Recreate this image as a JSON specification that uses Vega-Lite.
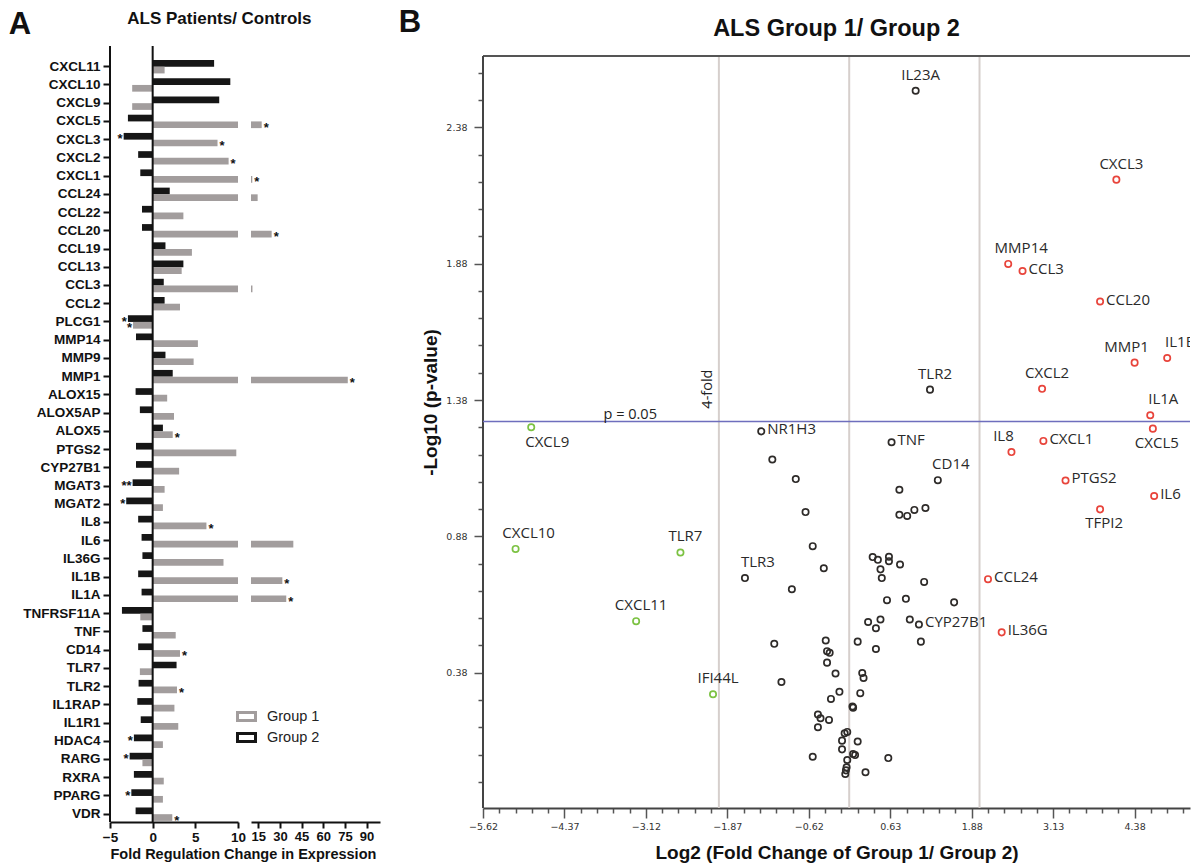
{
  "$schema": "https://vega.github.io/schema/vega-lite/v6.json",
  "background": "white",
  "padding": {"left": 8, "top": 6, "right": 0, "bottom": 0},
  "config": {
    "view": {"stroke": null},
    "font": "Liberation Sans",
    "title": {"color": "#111"},
    "axis": {"grid": false, "domainColor": "#111", "tickColor": "#111", "labelColor": "#111", "titleColor": "#111"}
  },
  "datasets": {
    "genes": [
      {"gene": "CXCL11", "group": "Group 2", "value": 7.2, "star": ""},
      {"gene": "CXCL11", "group": "Group 1", "value": 1.4, "star": ""},
      {"gene": "CXCL10", "group": "Group 2", "value": 9.1, "star": ""},
      {"gene": "CXCL10", "group": "Group 1", "value": -2.4, "star": ""},
      {"gene": "CXCL9", "group": "Group 2", "value": 7.8, "star": ""},
      {"gene": "CXCL9", "group": "Group 1", "value": -2.4, "star": ""},
      {"gene": "CXCL5", "group": "Group 2", "value": -2.9, "star": ""},
      {"gene": "CXCL5", "group": "Group 1", "value": 17.4, "star": "*"},
      {"gene": "CXCL3", "group": "Group 2", "value": -3.4, "star": "*"},
      {"gene": "CXCL3", "group": "Group 1", "value": 7.6, "star": "*"},
      {"gene": "CXCL2", "group": "Group 2", "value": -1.7, "star": ""},
      {"gene": "CXCL2", "group": "Group 1", "value": 8.9, "star": "*"},
      {"gene": "CXCL1", "group": "Group 2", "value": -1.45, "star": ""},
      {"gene": "CXCL1", "group": "Group 1", "value": 10.9, "star": "*"},
      {"gene": "CCL24", "group": "Group 2", "value": 2.0, "star": ""},
      {"gene": "CCL24", "group": "Group 1", "value": 14.6, "star": ""},
      {"gene": "CCL22", "group": "Group 2", "value": -1.25, "star": ""},
      {"gene": "CCL22", "group": "Group 1", "value": 3.6, "star": ""},
      {"gene": "CCL20", "group": "Group 2", "value": -1.25, "star": ""},
      {"gene": "CCL20", "group": "Group 1", "value": 24.3, "star": "*"},
      {"gene": "CCL19", "group": "Group 2", "value": 1.5, "star": ""},
      {"gene": "CCL19", "group": "Group 1", "value": 4.6, "star": ""},
      {"gene": "CCL13", "group": "Group 2", "value": 3.6, "star": ""},
      {"gene": "CCL13", "group": "Group 1", "value": 3.4, "star": ""},
      {"gene": "CCL3", "group": "Group 2", "value": 1.3, "star": ""},
      {"gene": "CCL3", "group": "Group 1", "value": 11.0, "star": ""},
      {"gene": "CCL2", "group": "Group 2", "value": 1.4, "star": ""},
      {"gene": "CCL2", "group": "Group 1", "value": 3.2, "star": ""},
      {"gene": "PLCG1", "group": "Group 2", "value": -2.9, "star": "*"},
      {"gene": "PLCG1", "group": "Group 1", "value": -2.3, "star": "*"},
      {"gene": "MMP14", "group": "Group 2", "value": -1.95, "star": ""},
      {"gene": "MMP14", "group": "Group 1", "value": 5.3, "star": ""},
      {"gene": "MMP9", "group": "Group 2", "value": 1.5, "star": ""},
      {"gene": "MMP9", "group": "Group 1", "value": 4.8, "star": ""},
      {"gene": "MMP1", "group": "Group 2", "value": 2.35, "star": ""},
      {"gene": "MMP1", "group": "Group 1", "value": 77.0, "star": "*"},
      {"gene": "ALOX15", "group": "Group 2", "value": -2.0, "star": ""},
      {"gene": "ALOX15", "group": "Group 1", "value": 1.7, "star": ""},
      {"gene": "ALOX5AP", "group": "Group 2", "value": -1.5, "star": ""},
      {"gene": "ALOX5AP", "group": "Group 1", "value": 2.5, "star": ""},
      {"gene": "ALOX5", "group": "Group 2", "value": 1.2, "star": ""},
      {"gene": "ALOX5", "group": "Group 1", "value": 2.35, "star": "*"},
      {"gene": "PTGS2", "group": "Group 2", "value": -1.95, "star": ""},
      {"gene": "PTGS2", "group": "Group 1", "value": 9.8, "star": ""},
      {"gene": "CYP27B1", "group": "Group 2", "value": -1.95, "star": ""},
      {"gene": "CYP27B1", "group": "Group 1", "value": 3.1, "star": ""},
      {"gene": "MGAT3", "group": "Group 2", "value": -2.35, "star": "**"},
      {"gene": "MGAT3", "group": "Group 1", "value": 1.4, "star": ""},
      {"gene": "MGAT2", "group": "Group 2", "value": -3.1, "star": "*"},
      {"gene": "MGAT2", "group": "Group 1", "value": 1.2, "star": ""},
      {"gene": "IL8", "group": "Group 2", "value": -1.7, "star": ""},
      {"gene": "IL8", "group": "Group 1", "value": 6.3, "star": "*"},
      {"gene": "IL6", "group": "Group 2", "value": -1.3, "star": ""},
      {"gene": "IL6", "group": "Group 1", "value": 39.3, "star": ""},
      {"gene": "IL36G", "group": "Group 2", "value": -1.2, "star": ""},
      {"gene": "IL36G", "group": "Group 1", "value": 8.3, "star": ""},
      {"gene": "IL1B", "group": "Group 2", "value": -1.7, "star": ""},
      {"gene": "IL1B", "group": "Group 1", "value": 31.7, "star": "*"},
      {"gene": "IL1A", "group": "Group 2", "value": -1.3, "star": ""},
      {"gene": "IL1A", "group": "Group 1", "value": 34.4, "star": "*"},
      {"gene": "TNFRSF11A", "group": "Group 2", "value": -3.6, "star": ""},
      {"gene": "TNFRSF11A", "group": "Group 1", "value": -1.45, "star": ""},
      {"gene": "TNF", "group": "Group 2", "value": -1.2, "star": ""},
      {"gene": "TNF", "group": "Group 1", "value": 2.7, "star": ""},
      {"gene": "CD14", "group": "Group 2", "value": -1.7, "star": ""},
      {"gene": "CD14", "group": "Group 1", "value": 3.2, "star": "*"},
      {"gene": "TLR7", "group": "Group 2", "value": 2.8, "star": ""},
      {"gene": "TLR7", "group": "Group 1", "value": -1.5, "star": ""},
      {"gene": "TLR2", "group": "Group 2", "value": -1.65, "star": ""},
      {"gene": "TLR2", "group": "Group 1", "value": 2.85, "star": "*"},
      {"gene": "IL1RAP", "group": "Group 2", "value": -1.8, "star": ""},
      {"gene": "IL1RAP", "group": "Group 1", "value": 2.55, "star": ""},
      {"gene": "IL1R1", "group": "Group 2", "value": -1.4, "star": ""},
      {"gene": "IL1R1", "group": "Group 1", "value": 3.0, "star": ""},
      {"gene": "HDAC4", "group": "Group 2", "value": -2.2, "star": "*"},
      {"gene": "HDAC4", "group": "Group 1", "value": 1.2, "star": ""},
      {"gene": "RARG", "group": "Group 2", "value": -2.7, "star": "*"},
      {"gene": "RARG", "group": "Group 1", "value": -1.2, "star": ""},
      {"gene": "RXRA", "group": "Group 2", "value": -2.2, "star": ""},
      {"gene": "RXRA", "group": "Group 1", "value": 1.3, "star": ""},
      {"gene": "PPARG", "group": "Group 2", "value": -2.5, "star": "*"},
      {"gene": "PPARG", "group": "Group 1", "value": 1.2, "star": ""},
      {"gene": "VDR", "group": "Group 2", "value": -2.0, "star": ""},
      {"gene": "VDR", "group": "Group 1", "value": 2.3, "star": "*"}
    ],
    "volcano": [
      {"gene": "CXCL9", "lfc": -4.88, "nlp": 1.28, "cls": "down", "side": "below-r"},
      {"gene": "CXCL10", "lfc": -5.12, "nlp": 0.834, "cls": "down", "side": "above-r"},
      {"gene": "TLR7", "lfc": -2.59, "nlp": 0.821, "cls": "down", "side": "above"},
      {"gene": "CXCL11", "lfc": -3.27, "nlp": 0.569, "cls": "down", "side": "above"},
      {"gene": "IFI44L", "lfc": -2.09, "nlp": 0.301, "cls": "down", "side": "above"},
      {"gene": "CXCL3", "lfc": 4.1, "nlp": 2.188, "cls": "up", "side": "above"},
      {"gene": "MMP14", "lfc": 2.44, "nlp": 1.879, "cls": "up", "side": "above-r"},
      {"gene": "CCL3", "lfc": 2.66, "nlp": 1.853, "cls": "up", "side": "right"},
      {"gene": "CCL20", "lfc": 3.85, "nlp": 1.741, "cls": "up", "side": "right"},
      {"gene": "MMP1", "lfc": 4.38, "nlp": 1.517, "cls": "up", "side": "above-l"},
      {"gene": "IL1B", "lfc": 4.88, "nlp": 1.534, "cls": "up", "side": "above-r"},
      {"gene": "CXCL2", "lfc": 2.96, "nlp": 1.421, "cls": "up", "side": "above"},
      {"gene": "IL1A", "lfc": 4.62, "nlp": 1.324, "cls": "up", "side": "above-r"},
      {"gene": "CXCL5", "lfc": 4.66, "nlp": 1.275, "cls": "up", "side": "below"},
      {"gene": "IL8", "lfc": 2.49, "nlp": 1.189, "cls": "up", "side": "above-l"},
      {"gene": "CXCL1", "lfc": 2.98, "nlp": 1.23, "cls": "up", "side": "right"},
      {"gene": "PTGS2", "lfc": 3.32, "nlp": 1.085, "cls": "up", "side": "right"},
      {"gene": "IL6", "lfc": 4.68, "nlp": 1.028, "cls": "up", "side": "right"},
      {"gene": "TFPI2", "lfc": 3.85, "nlp": 0.979, "cls": "up", "side": "below"},
      {"gene": "CCL24", "lfc": 2.13, "nlp": 0.723, "cls": "up", "side": "right"},
      {"gene": "IL36G", "lfc": 2.34, "nlp": 0.528, "cls": "up", "side": "right"},
      {"gene": "IL23A", "lfc": 1.02, "nlp": 2.514, "cls": "ns", "side": "above"},
      {"gene": "TLR2", "lfc": 1.24, "nlp": 1.418, "cls": "ns", "side": "above"},
      {"gene": "NR1H3", "lfc": -1.35, "nlp": 1.265, "cls": "ns", "side": "right"},
      {"gene": "TNF", "lfc": 0.65, "nlp": 1.225, "cls": "ns", "side": "right"},
      {"gene": "CD14", "lfc": 1.36, "nlp": 1.086, "cls": "ns", "side": "above-r"},
      {"gene": "TLR3", "lfc": -1.6, "nlp": 0.727, "cls": "ns", "side": "above-r"},
      {"gene": "CYP27B1", "lfc": 1.07, "nlp": 0.557, "cls": "ns", "side": "right"},
      {"gene": "", "lfc": -1.18, "nlp": 1.162, "cls": "ns", "side": "none"},
      {"gene": "", "lfc": -0.82, "nlp": 1.09, "cls": "ns", "side": "none"},
      {"gene": "", "lfc": -0.67, "nlp": 0.969, "cls": "ns", "side": "none"},
      {"gene": "", "lfc": -0.56, "nlp": 0.844, "cls": "ns", "side": "none"},
      {"gene": "", "lfc": 0.77, "nlp": 1.051, "cls": "ns", "side": "none"},
      {"gene": "", "lfc": 0.77, "nlp": 0.959, "cls": "ns", "side": "none"},
      {"gene": "", "lfc": 0.89, "nlp": 0.955, "cls": "ns", "side": "none"},
      {"gene": "", "lfc": 1.0, "nlp": 0.977, "cls": "ns", "side": "none"},
      {"gene": "", "lfc": 1.17, "nlp": 0.984, "cls": "ns", "side": "none"},
      {"gene": "", "lfc": -0.39, "nlp": 0.763, "cls": "ns", "side": "none"},
      {"gene": "", "lfc": -0.88, "nlp": 0.686, "cls": "ns", "side": "none"},
      {"gene": "", "lfc": 0.36, "nlp": 0.804, "cls": "ns", "side": "none"},
      {"gene": "", "lfc": 0.44, "nlp": 0.794, "cls": "ns", "side": "none"},
      {"gene": "", "lfc": 0.61, "nlp": 0.805, "cls": "ns", "side": "none"},
      {"gene": "", "lfc": 0.61, "nlp": 0.789, "cls": "ns", "side": "none"},
      {"gene": "", "lfc": 0.78, "nlp": 0.777, "cls": "ns", "side": "none"},
      {"gene": "", "lfc": 0.48, "nlp": 0.759, "cls": "ns", "side": "none"},
      {"gene": "", "lfc": 0.5, "nlp": 0.727, "cls": "ns", "side": "none"},
      {"gene": "", "lfc": 1.15, "nlp": 0.713, "cls": "ns", "side": "none"},
      {"gene": "", "lfc": 0.58, "nlp": 0.646, "cls": "ns", "side": "none"},
      {"gene": "", "lfc": 0.87, "nlp": 0.651, "cls": "ns", "side": "none"},
      {"gene": "", "lfc": 1.61, "nlp": 0.638, "cls": "ns", "side": "none"},
      {"gene": "", "lfc": 0.29, "nlp": 0.566, "cls": "ns", "side": "none"},
      {"gene": "", "lfc": 0.48, "nlp": 0.575, "cls": "ns", "side": "none"},
      {"gene": "", "lfc": 0.41, "nlp": 0.543, "cls": "ns", "side": "none"},
      {"gene": "", "lfc": 0.93, "nlp": 0.575, "cls": "ns", "side": "none"},
      {"gene": "", "lfc": 1.1, "nlp": 0.494, "cls": "ns", "side": "none"},
      {"gene": "", "lfc": -1.15, "nlp": 0.486, "cls": "ns", "side": "none"},
      {"gene": "", "lfc": -0.36, "nlp": 0.498, "cls": "ns", "side": "none"},
      {"gene": "", "lfc": -0.34, "nlp": 0.459, "cls": "ns", "side": "none"},
      {"gene": "", "lfc": -0.3, "nlp": 0.453, "cls": "ns", "side": "none"},
      {"gene": "", "lfc": -0.34, "nlp": 0.417, "cls": "ns", "side": "none"},
      {"gene": "", "lfc": 0.13, "nlp": 0.494, "cls": "ns", "side": "none"},
      {"gene": "", "lfc": 0.41, "nlp": 0.467, "cls": "ns", "side": "none"},
      {"gene": "", "lfc": -1.04, "nlp": 0.346, "cls": "ns", "side": "none"},
      {"gene": "", "lfc": -0.21, "nlp": 0.377, "cls": "ns", "side": "none"},
      {"gene": "", "lfc": 0.2, "nlp": 0.379, "cls": "ns", "side": "none"},
      {"gene": "", "lfc": 0.22, "nlp": 0.361, "cls": "ns", "side": "none"},
      {"gene": "", "lfc": -0.15, "nlp": 0.31, "cls": "ns", "side": "none"},
      {"gene": "", "lfc": -0.28, "nlp": 0.284, "cls": "ns", "side": "none"},
      {"gene": "", "lfc": 0.17, "nlp": 0.305, "cls": "ns", "side": "none"},
      {"gene": "", "lfc": 0.06, "nlp": 0.252, "cls": "ns", "side": "none"},
      {"gene": "", "lfc": 0.05, "nlp": 0.256, "cls": "ns", "side": "none"},
      {"gene": "", "lfc": -0.48, "nlp": 0.227, "cls": "ns", "side": "none"},
      {"gene": "", "lfc": -0.44, "nlp": 0.213, "cls": "ns", "side": "none"},
      {"gene": "", "lfc": -0.31, "nlp": 0.207, "cls": "ns", "side": "none"},
      {"gene": "", "lfc": -0.48, "nlp": 0.18, "cls": "ns", "side": "none"},
      {"gene": "", "lfc": -0.07, "nlp": 0.158, "cls": "ns", "side": "none"},
      {"gene": "", "lfc": -0.03, "nlp": 0.163, "cls": "ns", "side": "none"},
      {"gene": "", "lfc": -0.11, "nlp": 0.131, "cls": "ns", "side": "none"},
      {"gene": "", "lfc": 0.13, "nlp": 0.128, "cls": "ns", "side": "none"},
      {"gene": "", "lfc": -0.11, "nlp": 0.099, "cls": "ns", "side": "none"},
      {"gene": "", "lfc": -0.56, "nlp": 0.072, "cls": "ns", "side": "none"},
      {"gene": "", "lfc": 0.06, "nlp": 0.082, "cls": "ns", "side": "none"},
      {"gene": "", "lfc": 0.09, "nlp": 0.078, "cls": "ns", "side": "none"},
      {"gene": "", "lfc": -0.03, "nlp": 0.06, "cls": "ns", "side": "none"},
      {"gene": "", "lfc": 0.6, "nlp": 0.067, "cls": "ns", "side": "none"},
      {"gene": "", "lfc": -0.04, "nlp": 0.033, "cls": "ns", "side": "none"},
      {"gene": "", "lfc": -0.05, "nlp": 0.022, "cls": "ns", "side": "none"},
      {"gene": "", "lfc": -0.06, "nlp": 0.009, "cls": "ns", "side": "none"},
      {"gene": "", "lfc": 0.25, "nlp": 0.015, "cls": "ns", "side": "none"}
    ],
    "vlines": [{"lfc": -2}, {"lfc": 0}, {"lfc": 2}],
    "notes": [
      {"note": "p = 0.05", "lfc": -3.36, "nlp": 1.301, "kind": "flat"},
      {"note": "4-fold", "lfc": -2.17, "nlp": 1.42, "kind": "rot"}
    ]
  },
  "resolve": {"scale": {"x": "independent", "y": "independent", "color": "independent", "stroke": "independent"}},
  "spacing": 18,
  "hconcat": [
    {
      "title": {"text": "A", "orient": "top", "anchor": "start", "frame": "bounds", "fontSize": 31, "fontWeight": "bold", "offset": -31, "dx": -14},
      "hconcat": [
        {
          "title": {"text": "ALS Patients/ Controls", "fontSize": 17, "fontWeight": "bold", "anchor": "middle", "offset": 17, "dx": 18},
          "bounds": "flush",
          "spacing": 13,
          "resolve": {"scale": {"x": "independent"}, "legend": {"color": "independent"}},
          "hconcat": [
            {
              "width": 128,
              "height": 776,
              "resolve": {"legend": {"color": "independent"}},
              "layer": [
                {
                  "data": {"name": "genes"},
                  "mark": {"type": "bar", "clip": true},
                  "encoding": {
                    "y": {"field": "gene", "type": "nominal", "scale": {"domain": ["CXCL11","CXCL10","CXCL9","CXCL5","CXCL3","CXCL2","CXCL1","CCL24","CCL22","CCL20","CCL19","CCL13","CCL3","CCL2","PLCG1","MMP14","MMP9","MMP1","ALOX15","ALOX5AP","ALOX5","PTGS2","CYP27B1","MGAT3","MGAT2","IL8","IL6","IL36G","IL1B","IL1A","TNFRSF11A","TNF","CD14","TLR7","TLR2","IL1RAP","IL1R1","HDAC4","RARG","RXRA","PPARG","VDR"], "range": [11.6, 777.3], "paddingInner": 0, "paddingOuter": 0},
                      "axis": {"title": null, "domain": false, "labelFontSize": 13.5, "labelFontWeight": "bold", "tickSize": 7, "tickWidth": 2, "labelPadding": 3}},
                    "yOffset": {"field": "group", "type": "nominal", "scale": {"domain": ["Group 2", "Group 1"], "paddingInner": 0, "paddingOuter": 0.36}},
                    "x": {"field": "value", "type": "quantitative", "scale": {"domain": [-5, 10], "nice": false, "zero": false},
                      "axis": {"values": [-5, 0, 5, 10], "tickCount": 10, "labelFontSize": 13.5, "labelFontWeight": "bold", "tickSize": 6, "tickWidth": 2, "domainWidth": 2, "labelPadding": 2, "labelFlush": false, "labelOverlap": false, "title": "Fold Regulation Change in Expression", "titleFontSize": 14.5, "titleFontWeight": "bold", "titleAnchor": "start", "titlePadding": 4}},
                    "x2": {"datum": 0},
                    "color": {"field": "group", "type": "nominal", "scale": {"domain": ["Group 1", "Group 2"], "range": ["#a29d9d", "#161616"]}, "legend": null}
                  }
                },
                {
                  "data": {"name": "genes"},
                  "transform": [{"filter": "datum.value > 1000"}],
                  "mark": {"type": "point", "filled": false, "shape": "M-1,-0.45L1,-0.45L1,0.45L-1,0.45Z", "size": 324, "strokeWidth": 3, "opacity": 1},
                  "encoding": {
                    "color": {"field": "group", "type": "nominal", "scale": {"domain": ["Group 1", "Group 2"], "range": ["#a29d9d", "#161616"]},
                      "legend": {"title": null, "orient": "none", "legendX": 126, "legendY": 660, "labelFontSize": 14.5, "labelFont": "Liberation Sans", "labelColor": "#222", "labelOffset": 10, "rowPadding": 0, "symbolStrokeWidth": 3, "symbolType": "M-1,-0.45L1,-0.45L1,0.45L-1,0.45Z", "symbolSize": 324, "symbolFillColor": "white"}}
                  }
                },
                {
                  "data": {"values": [{}]},
                  "mark": {"type": "rule", "color": "#111", "strokeWidth": 2},
                  "encoding": {"x": {"datum": 0}}
                },
                {
                  "data": {"values": [{}]},
                  "mark": {"type": "rule", "color": "#111", "strokeWidth": 2},
                  "encoding": {"x": {"datum": -5}}
                },
                {
                  "data": {"name": "genes"},
                  "transform": [{"filter": "datum.star != '' && datum.value > 0 && datum.value <= 10"}],
                  "mark": {"type": "text", "align": "left", "baseline": "middle", "dx": 2, "dy": 3, "fontSize": 13, "fontWeight": "bold", "color": "#111"},
                  "encoding": {
                    "y": {"field": "gene", "type": "nominal"},
                    "yOffset": {"field": "group", "type": "nominal"},
                    "x": {"field": "value", "type": "quantitative"},
                    "text": {"field": "star"}
                  }
                },
                {
                  "data": {"name": "genes"},
                  "transform": [{"filter": "datum.star != '' && datum.value < 0"}],
                  "mark": {"type": "text", "align": "right", "baseline": "middle", "dx": -1, "dy": 3, "fontSize": 13, "fontWeight": "bold", "color": "#111"},
                  "encoding": {
                    "y": {"field": "gene", "type": "nominal"},
                    "yOffset": {"field": "group", "type": "nominal"},
                    "x": {"field": "value", "type": "quantitative"},
                    "text": {"field": "star"}
                  }
                }
              ]
            },
            {
              "width": 129,
              "height": 776,
              "data": {"name": "genes"},
              "layer": [
                {
                  "mark": {"type": "bar", "clip": true},
                  "encoding": {
                    "y": {"field": "gene", "type": "nominal", "scale": {"domain": ["CXCL11","CXCL10","CXCL9","CXCL5","CXCL3","CXCL2","CXCL1","CCL24","CCL22","CCL20","CCL19","CCL13","CCL3","CCL2","PLCG1","MMP14","MMP9","MMP1","ALOX15","ALOX5AP","ALOX5","PTGS2","CYP27B1","MGAT3","MGAT2","IL8","IL6","IL36G","IL1B","IL1A","TNFRSF11A","TNF","CD14","TLR7","TLR2","IL1RAP","IL1R1","HDAC4","RARG","RXRA","PPARG","VDR"], "range": [11.6, 777.3], "paddingInner": 0, "paddingOuter": 0}, "axis": null},
                    "yOffset": {"field": "group", "type": "nominal", "scale": {"domain": ["Group 2", "Group 1"], "paddingInner": 0, "paddingOuter": 0.36}},
                    "x": {"field": "value", "type": "quantitative", "scale": {"domain": [10, 99.3], "nice": false, "zero": false},
                      "axis": {"values": [15, 30, 45, 60, 75, 90], "tickCount": 20, "labelFontSize": 13, "labelFontWeight": "bold", "tickSize": 6, "tickWidth": 2, "domainWidth": 2, "labelPadding": 2, "labelFlush": false, "labelOverlap": false, "labelBound": false, "labelSeparation": 0, "title": null}},
                    "x2": {"datum": 0},
                    "color": {"field": "group", "type": "nominal", "scale": {"domain": ["Group 1", "Group 2"], "range": ["#a29d9d", "#161616"]}, "legend": null}
                  }
                },
                {
                  "transform": [{"filter": "datum.star != '' && datum.value > 10"}],
                  "mark": {"type": "text", "align": "left", "baseline": "middle", "dx": 2, "dy": 3, "fontSize": 13, "fontWeight": "bold", "color": "#111"},
                  "encoding": {
                    "y": {"field": "gene", "type": "nominal"},
                    "yOffset": {"field": "group", "type": "nominal"},
                    "x": {"field": "value", "type": "quantitative"},
                    "text": {"field": "star"}
                  }
                }
              ]
            }
          ]
        }
      ]
    },
    {
      "title": {"text": "B", "orient": "top", "anchor": "start", "frame": "bounds", "fontSize": 31, "fontWeight": "bold", "offset": -22, "dx": -23},
      "hconcat": [
        {
          "width": 707,
          "height": 762,
          "title": {"text": "ALS Group 1/ Group 2", "fontSize": 23.5, "fontWeight": "bold", "anchor": "middle", "frame": "group", "offset": 6},
          "resolve": {"axis": {"x": "independent"}},
          "layer": [
            {
              "data": {"name": "vlines"},
              "mark": {"type": "rule", "color": "#d6cfcc", "strokeWidth": 2},
              "encoding": {
                "x": {"field": "lfc", "type": "quantitative", "scale": {"domain": [-5.62, 5.23], "nice": false, "zero": false}, "axis": null},
                "y": {"datum": 2.641, "type": "quantitative", "scale": {"domain": [-0.116, 2.678], "nice": false, "zero": false}},
                "y2": {"datum": -0.116}
              }
            },
            {
              "data": {"values": [{}]},
              "mark": {"type": "rule", "color": "#555", "strokeWidth": 2},
              "encoding": {
                "y": {"datum": 2.641, "type": "quantitative"}
              }
            },
            {
              "data": {"values": [{}]},
              "mark": {"type": "rule", "color": "#444", "strokeWidth": 2},
              "encoding": {
                "x": {"datum": -5.62, "type": "quantitative", "axis": null},
                "y": {"datum": 2.641, "type": "quantitative"},
                "y2": {"datum": -0.116}
              }
            },
            {
              "data": {"values": [{}]},
              "mark": {"type": "rule", "color": "#6e6ebd", "strokeWidth": 1.5},
              "encoding": {
                "y": {"datum": 1.301, "type": "quantitative"}
              }
            },
            {
              "data": {"name": "volcano"},
              "mark": {"type": "point", "shape": "circle", "filled": false, "size": 40, "strokeWidth": 1.7, "opacity": 1},
              "encoding": {
                "x": {"field": "lfc", "type": "quantitative", "scale": {"domain": [-5.62, 5.23], "nice": false, "zero": false},
                  "axis": {"orient": "bottom", "values": [-5.62, -5.37, -5.12, -4.87, -4.62, -4.37, -4.12, -3.87, -3.62, -3.37, -3.12, -2.87, -2.62, -2.37, -2.12, -1.87, -1.62, -1.37, -1.12, -0.87, -0.62, -0.37, -0.12, 0.13, 0.38, 0.63, 0.88, 1.13, 1.38, 1.63, 1.88, 2.13, 2.38, 2.63, 2.88, 3.13, 3.38, 3.63, 3.88, 4.13, 4.38, 4.63, 4.88, 5.13],
                    "tickCount": 60,
                    "labelExpr": "round((datum.value + 5.62) / 0.25) % 5 === 0 ? format(datum.value, '.2f') : ''",
                    "tickSize": {"condition": {"test": "round((datum.value + 5.62) / 0.25) % 5 === 0", "value": 10}, "value": 5},
                    "tickColor": "#555", "tickWidth": 1.5, "domainColor": "#444", "domainWidth": 2,
                    "labelFont": "DejaVu Sans", "labelFontSize": 9.5, "labelColor": "#333", "labelPadding": 3, "labelFlush": false, "labelOverlap": false,
                    "title": "Log2 (Fold Change of Group 1/ Group 2)", "titleFontSize": 19, "titleFontWeight": "bold", "titlePadding": 13}},
                "y": {"field": "nlp", "type": "quantitative", "scale": {"domain": [-0.116, 2.678], "nice": false, "zero": false},
                  "axis": {"values": [-0.02, 0.08, 0.18, 0.28, 0.38, 0.48, 0.58, 0.68, 0.78, 0.88, 0.98, 1.08, 1.18, 1.28, 1.38, 1.48, 1.58, 1.68, 1.78, 1.88, 1.98, 2.08, 2.18, 2.28, 2.38, 2.48, 2.58],
                    "tickCount": 40,
                    "labelExpr": "round((datum.value + 0.62) / 0.1) % 5 === 0 ? format(datum.value, '.2f') : ''",
                    "tickSize": {"condition": {"test": "round((datum.value + 0.62) / 0.1) % 5 === 0", "value": 9}, "value": 5},
                    "domain": false,
                    "tickColor": "#555", "tickWidth": 1.5,
                    "labelFont": "DejaVu Sans", "labelFontSize": 9.5, "labelColor": "#333", "labelPadding": 7, "labelOverlap": false,
                    "title": "-Log10 (p-value)", "titleFontSize": 19, "titleFontWeight": "bold", "titlePadding": 5, "titleY": 356}},
                "stroke": {"field": "cls", "type": "nominal", "scale": {"domain": ["ns", "up", "down"], "range": ["#2e2b29", "#e8443b", "#7cc243"]}, "legend": null}
              }
            },
            {
              "data": {"name": "volcano"},
              "transform": [{"filter": "datum.side === 'above'"}],
              "mark": {"type": "text", "font": "Open Sans", "fontSize": 15, "color": "#2a2a2a", "baseline": "middle", "align": "center", "dx": 5, "dy": -16, "clip": true},
              "encoding": {"x": {"field": "lfc", "type": "quantitative", "axis": null}, "y": {"field": "nlp", "type": "quantitative"}, "text": {"field": "gene"}}
            },
            {
              "data": {"name": "volcano"},
              "transform": [{"filter": "datum.side === 'above-r'"}],
              "mark": {"type": "text", "font": "Open Sans", "fontSize": 15, "color": "#2a2a2a", "baseline": "middle", "align": "center", "dx": 13, "dy": -16, "clip": true},
              "encoding": {"x": {"field": "lfc", "type": "quantitative", "axis": null}, "y": {"field": "nlp", "type": "quantitative"}, "text": {"field": "gene"}}
            },
            {
              "data": {"name": "volcano"},
              "transform": [{"filter": "datum.side === 'above-l'"}],
              "mark": {"type": "text", "font": "Open Sans", "fontSize": 15, "color": "#2a2a2a", "baseline": "middle", "align": "center", "dx": -8, "dy": -16, "clip": true},
              "encoding": {"x": {"field": "lfc", "type": "quantitative", "axis": null}, "y": {"field": "nlp", "type": "quantitative"}, "text": {"field": "gene"}}
            },
            {
              "data": {"name": "volcano"},
              "transform": [{"filter": "datum.side === 'below'"}],
              "mark": {"type": "text", "font": "Open Sans", "fontSize": 15, "color": "#2a2a2a", "baseline": "middle", "align": "center", "dx": 4, "dy": 14, "clip": true},
              "encoding": {"x": {"field": "lfc", "type": "quantitative", "axis": null}, "y": {"field": "nlp", "type": "quantitative"}, "text": {"field": "gene"}}
            },
            {
              "data": {"name": "volcano"},
              "transform": [{"filter": "datum.side === 'below-r'"}],
              "mark": {"type": "text", "font": "Open Sans", "fontSize": 15, "color": "#2a2a2a", "baseline": "middle", "align": "center", "dx": 16, "dy": 15, "clip": true},
              "encoding": {"x": {"field": "lfc", "type": "quantitative", "axis": null}, "y": {"field": "nlp", "type": "quantitative"}, "text": {"field": "gene"}}
            },
            {
              "data": {"name": "volcano"},
              "transform": [{"filter": "datum.side === 'right'"}],
              "mark": {"type": "text", "font": "Open Sans", "fontSize": 15, "color": "#2a2a2a", "baseline": "middle", "align": "left", "dx": 6, "dy": -2, "clip": true},
              "encoding": {"x": {"field": "lfc", "type": "quantitative", "axis": null}, "y": {"field": "nlp", "type": "quantitative"}, "text": {"field": "gene"}}
            },
            {
              "data": {"name": "notes"},
              "transform": [{"filter": "datum.kind === 'flat'"}],
              "mark": {"type": "text", "font": "Open Sans", "fontSize": 14.5, "color": "#222", "baseline": "alphabetic", "align": "center", "dy": -3},
              "encoding": {"x": {"field": "lfc", "type": "quantitative", "axis": null}, "y": {"field": "nlp", "type": "quantitative"}, "text": {"field": "note"}}
            },
            {
              "data": {"name": "notes"},
              "transform": [{"filter": "datum.kind === 'rot'"}],
              "mark": {"type": "text", "font": "Open Sans", "fontSize": 14.5, "color": "#222", "baseline": "middle", "align": "center", "angle": 270},
              "encoding": {"x": {"field": "lfc", "type": "quantitative", "axis": null}, "y": {"field": "nlp", "type": "quantitative"}, "text": {"field": "note"}}
            }
          ]
        }
      ]
    }
  ]
}
